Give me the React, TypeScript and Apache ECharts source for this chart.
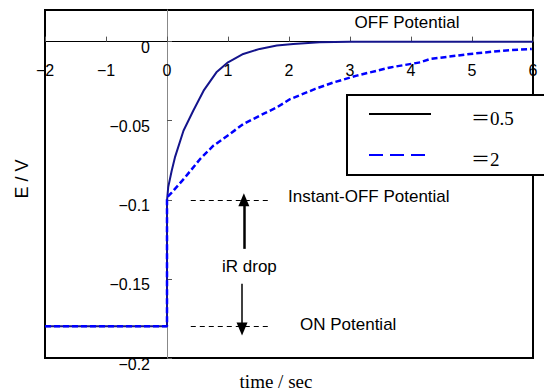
import React, { useEffect, useRef } from "react";
import * as echarts from "echarts";

// time (s) and potential (V)
const solidTimes = [-2, 0, 0, 0.02, 0.077, 0.13, 0.27, 0.43, 0.6, 0.81, 1.0, 1.25, 1.52, 1.8, 2.07, 2.5, 3, 4, 5, 6];
const solidValues = [-0.18, -0.18, -0.1006, -0.092, -0.0816, -0.0732, -0.0563, -0.0437, -0.031, -0.0194, -0.0131, -0.0078, -0.0046, -0.0025, -0.0015, -0.0004, 0, 0, 0, 0];

const dashedTimes = [-2, 0, 0, 0.077, 0.295, 0.54, 0.76, 1.03, 1.25, 1.52, 1.8, 2.02, 2.43, 2.73, 3.11, 3.66, 4.15, 4.31, 4.97, 5.51, 5.98];
const dashedValues = [-0.18, -0.18, -0.0985, -0.0954, -0.0859, -0.0743, -0.0658, -0.0584, -0.0521, -0.0468, -0.0416, -0.0363, -0.0299, -0.0258, -0.0215, -0.0163, -0.0131, -0.011, -0.0078, -0.0057, -0.0046];

const xTicks = [-2, -1, 0, 1, 2, 3, 4, 5, 6];
const yTicks = [-0.2, -0.15, -0.1, -0.05, 0];
const yTickLabels = ["\u22120.2", "\u22120.15", "\u22120.1", "\u22120.05", "0"];

const instantOffLevel = -0.1;
const onLevel = -0.18;
const guideStart = 0.39;
const guideEnd = 1.69;
const upArrow = { t: 1.26, from: -0.131, to: -0.1 };
const downArrow = { t: 1.23, from: -0.153, to: -0.1816 };

const legendNames = ["\uFF1D0.5", "\uFF1D2"];

const SANS = "'Liberation Sans', Arial, sans-serif";
const SERIF = "'Liberation Serif', 'Times New Roman', 'Noto Sans CJK JP', serif";

const W = 544;
const H = 392;
const G = { left: 45, right: 11, top: 10, bottom: 34 };
const X_MIN = -2, X_MAX = 6, Y_MIN = -0.2, Y_MAX = 0.02;

export default function App() {
  const ref = useRef<HTMLDivElement>(null);
  useEffect(() => {
    if (!ref.current) return;
    const chart = echarts.init(ref.current, null, { renderer: "svg" });
    const zip = (a: number[], b: number[]) => a.map((v, i) => [v, b[i]]);
    const gw = W - G.left - G.right;
    const gh = H - G.top - G.bottom;
    // move the axes onto the zero lines
    const xAxisOffset = -((Y_MAX - 0) / (Y_MAX - Y_MIN)) * gh;
    const yAxisOffset = -((0 - X_MIN) / (X_MAX - X_MIN)) * gw;
    chart.setOption({
      animation: false,
      backgroundColor: "#fff",
      grid: { ...G, show: true, borderColor: "#000", borderWidth: 2, backgroundColor: "transparent", containLabel: false, outerBoundsMode: "none" },
      xAxis: {
        type: "value",
        position: "top",
        offset: xAxisOffset,
        min: X_MIN,
        max: X_MAX,
        interval: 1,
        axisLine: { onZero: false, lineStyle: { color: "#000", width: 1 } },
        axisTick: { inside: false, length: 5, lineStyle: { color: "#555" } },
        axisLabel: {
          inside: true,
          margin: 21,
          color: "#000",
          fontFamily: SANS,
          fontSize: 16,
          formatter: (v: number) => {
            const i = xTicks.indexOf(Math.round(v));
            const n = i >= 0 ? xTicks[i] : v;
            return n < 0 ? "\u2212" + Math.abs(n) : String(n);
          },
        },
        splitLine: { show: false },
      },
      yAxis: {
        type: "value",
        position: "left",
        offset: yAxisOffset,
        min: Y_MIN,
        max: Y_MAX,
        axisLine: { onZero: false, lineStyle: { color: "#888", width: 1 } },
        axisTick: { inside: true, length: 5, customValues: yTicks, lineStyle: { color: "#555" } },
        axisLabel: {
          customValues: yTicks,
          margin: 17,
          color: "#000",
          fontFamily: SANS,
          fontSize: 16,
          verticalAlign: "top",
          lineHeight: 12,
          formatter: (v: number) => {
            let best = 0;
            yTicks.forEach((t, i) => {
              if (Math.abs(t - v) < Math.abs(yTicks[best] - v)) best = i;
            });
            return yTickLabels[best];
          },
        },
        splitLine: { show: false },
      },
      series: [
        {
          type: "line",
          data: zip(solidTimes, solidValues),
          showSymbol: false,
          lineStyle: { color: "#14148c", width: 2 },
          z: 3,
        },
        {
          type: "line",
          data: zip(dashedTimes, dashedValues),
          showSymbol: false,
          lineStyle: { color: "#0000ff", width: 2.5, type: [6, 3] },
          z: 4,
        },
        {
          type: "line",
          data: [],
          markLine: {
            silent: true,
            symbol: ["none", "none"],
            label: { show: false },
            lineStyle: { color: "#000", width: 1, type: [5, 4] },
            data: [
              [{ coord: [guideStart, instantOffLevel] }, { coord: [guideEnd, instantOffLevel] }],
              [{ coord: [guideStart, onLevel] }, { coord: [guideEnd, onLevel] }],
            ],
          },
        },
        {
          type: "line",
          data: [],
          markLine: {
            silent: true,
            symbol: ["none", "triangle"],
            symbolSize: [11, 13],
            label: { show: false },
            data: [
              [
                { coord: [upArrow.t, upArrow.from], lineStyle: { color: "#000", width: 2.5, type: "solid" } },
                { coord: [upArrow.t, upArrow.to] },
              ],
              [
                { coord: [downArrow.t, downArrow.from], lineStyle: { color: "#000", width: 1.5, type: "solid" } },
                { coord: [downArrow.t, downArrow.to] },
              ],
            ],
          },
        },
      ],
      graphic: [
        { type: "text", x: 407, y: 22, style: { text: "OFF Potential", font: `17px ${SANS}`, fill: "#000", align: "center", verticalAlign: "middle" } },
        { type: "text", x: 288, y: 196, style: { text: "Instant-OFF Potential", font: `17px ${SANS}`, fill: "#000", align: "left", verticalAlign: "middle" } },
        { type: "text", x: 222, y: 266, style: { text: "iR drop", font: `17px ${SANS}`, fill: "#000", align: "left", verticalAlign: "middle" } },
        { type: "text", x: 300, y: 324, style: { text: "ON Potential", font: `17px ${SANS}`, fill: "#000", align: "left", verticalAlign: "middle" } },
        { type: "text", x: 22, y: 179, rotation: Math.PI / 2, style: { text: "E / V", font: `18px ${SANS}`, fill: "#000", align: "center", verticalAlign: "middle" } },
        { type: "text", x: 276, y: 381, style: { text: "time / sec", font: `19px ${SERIF}`, fill: "#000", align: "center", verticalAlign: "middle" } },
        {
          type: "group",
          z: 100,
          children: [
            { type: "rect", shape: { x: 347, y: 95, width: 220, height: 80 }, style: { fill: "#fff", stroke: "#000", lineWidth: 2 } },
            { type: "line", shape: { x1: 369, y1: 114, x2: 431, y2: 114 }, style: { stroke: "#000", lineWidth: 2 } },
            { type: "line", shape: { x1: 369, y1: 155, x2: 427, y2: 155 }, style: { stroke: "#0000ff", lineWidth: 2, lineDash: [14, 7] } },
            { type: "text", x: 471, y: 118, style: { text: legendNames[0], font: `19px ${SERIF}`, fill: "#000", align: "left", verticalAlign: "middle" } },
            { type: "text", x: 471, y: 159, style: { text: legendNames[1], font: `19px ${SERIF}`, fill: "#000", align: "left", verticalAlign: "middle" } },
          ],
        },
      ],
    });
    return () => chart.dispose();
  }, []);
  return <div ref={ref} style={{ width: W, height: H, position: "absolute", left: 0, top: 0 }} />;
}
